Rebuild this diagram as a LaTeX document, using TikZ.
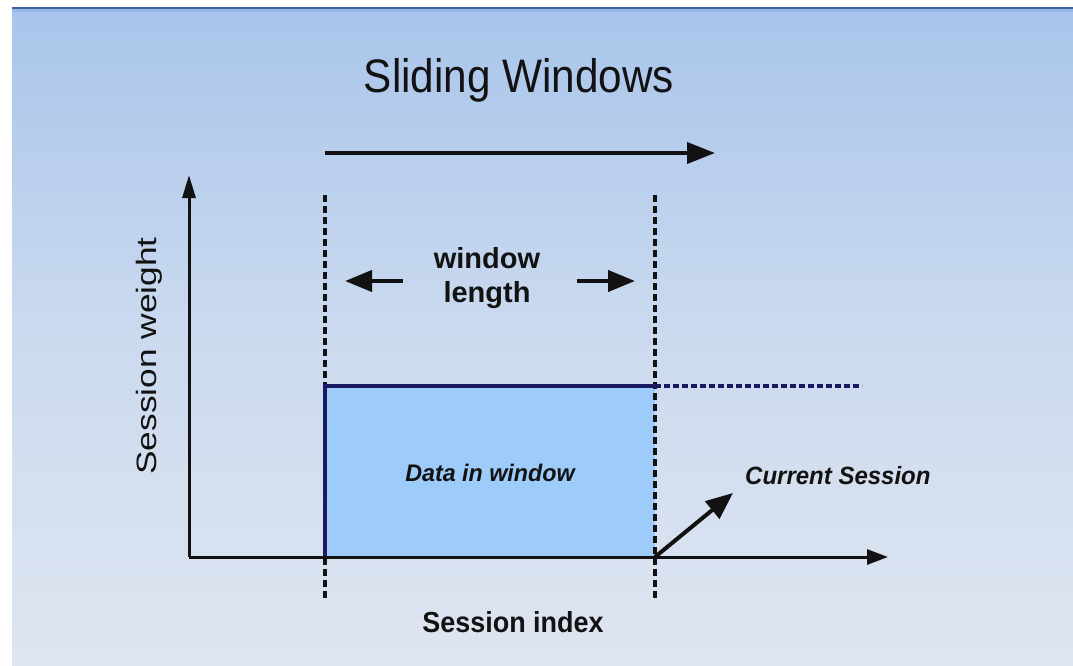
\documentclass[tikz,border=0pt]{standalone}
\usepackage{fontspec}
\setmainfont{Liberation Sans}
\usetikzlibrary{arrows.meta}

\definecolor{bgtop}{RGB}{169,197,235}
\definecolor{bgmid}{RGB}{203,218,239}
\definecolor{bgbot}{RGB}{223,229,240}
\definecolor{rulecol}{RGB}{58,100,160}
\definecolor{bandcol}{RGB}{150,185,232}
\definecolor{boxfill}{RGB}{158,204,250}
\definecolor{navy}{RGB}{26,26,98}
\definecolor{ink}{RGB}{18,18,18}

\tikzset{
  axis/.style={ink, line width=3pt, -{Triangle[length=21pt,width=15pt]}},
  bigarrow/.style={ink, line width=4pt, -{Triangle[length=27pt,width=21pt]}},
  guide/.style={ink, line width=3.2pt, dash pattern=on 7pt off 4pt},
  lbl/.style={inner sep=0pt, text=ink},
}

\begin{document}
\begin{tikzpicture}[x=1pt, y=-1pt]
  \useasboundingbox (0,0) rectangle (1073,666);

  % slide background
  \fill[white] (0,0) rectangle (1073,666);
  \fill[top color=bgtop, bottom color=bgbot, middle color=bgmid] (12,9) rectangle (1073,666);
  \fill[bandcol] (12,9) rectangle (1073,12);
  \fill[rulecol] (12,7) rectangle (1073,9.5);

  % key points
  \coordinate (O)  at (189,557);
  \coordinate (Ytip) at (189,175);
  \coordinate (Xtip) at (888,557);
  \coordinate (WL) at (325,557);
  \coordinate (WR) at (655,557);
  \coordinate (WLtop) at (325,386);
  \coordinate (WRtop) at (655,386);
  \coordinate (Hend) at (862,386);
  \coordinate (GLa) at (325,195);
  \coordinate (GLb) at (325,600);
  \coordinate (GRa) at (655,195);
  \coordinate (GRb) at (655,600);
  \coordinate (Sa) at (325,153);
  \coordinate (Sb) at (715,153);
  \coordinate (La) at (403,281);
  \coordinate (Lb) at (345,281);
  \coordinate (Ra) at (577,281);
  \coordinate (Rb) at (635,281);
  \coordinate (Cs) at (733,493);

  % data window
  \fill[boxfill] (WL) rectangle (WRtop);

  % window edges
  \draw[guide] (GLa) -- (GLb);
  \draw[guide] (GRa) -- (GRb);

  % window outline and level beyond it
  \draw[navy, line width=3.4pt] (WL) -- (WLtop) -- (WRtop);
  \draw[navy, line width=3.2pt, dash pattern=on 6pt off 3pt] (WRtop) -- (Hend);

  % axes
  \draw[axis, -{Triangle[length=23pt,width=13pt]}] (O) -- (Ytip);
  \draw[axis] (O) -- (Xtip);

  % arrows
  \draw[bigarrow, -{Triangle[length=28pt,width=21pt]}] (Sa) -- (Sb);
  \draw[bigarrow] (La) -- (Lb);
  \draw[bigarrow] (Ra) -- (Rb);
  \draw[bigarrow, -{Triangle[length=27pt,width=22pt]}] (WR) -- (Cs);

  % texts
  \node[lbl, anchor=base] (title) at (519,93) {\fontsize{47}{56}\selectfont\scalebox{0.9}[1]{Sliding Windows}};
  \node[lbl, anchor=base, font=\bfseries] (w1) at (487,268) {\fontsize{29}{34}\selectfont window};
  \node[lbl, anchor=base, font=\bfseries] (w2) at (487,302) {\fontsize{29}{34}\selectfont length};
  \node[lbl, anchor=base, font=\bfseries\itshape] (data) at (490,481) {\fontsize{24}{28}\selectfont\scalebox{0.97}[1]{Data in window}};
  \node[lbl, anchor=base west, font=\bfseries\itshape] (cur) at (745,484) {\fontsize{25}{30}\selectfont\scalebox{0.96}[1]{Current Session}};
  \node[lbl, anchor=base, font=\bfseries] (xl) at (513,632) {\fontsize{29}{34}\selectfont\scalebox{0.93}[1]{Session index}};
  \node[lbl, anchor=base, rotate=90] (yl) at (156,356) {\fontsize{28}{34}\selectfont\scalebox{1.26}[1]{Session weight}};
\end{tikzpicture}
\end{document}
